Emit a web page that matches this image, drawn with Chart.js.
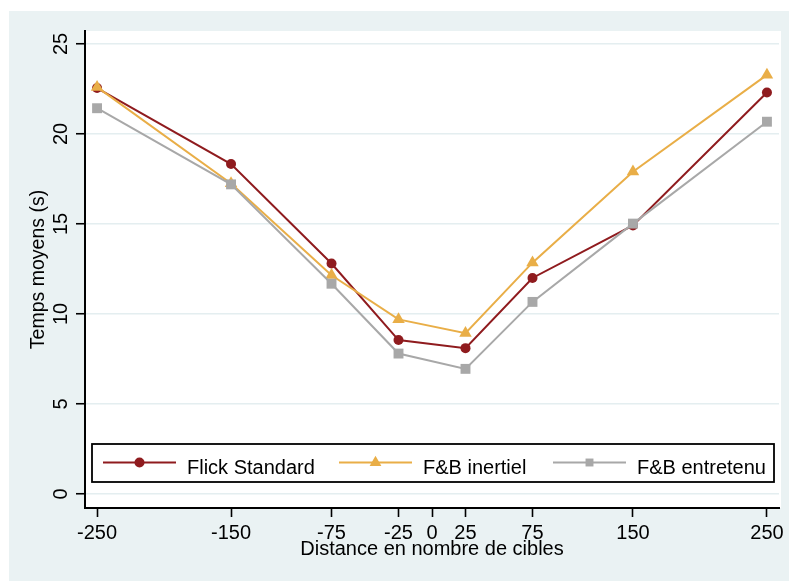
<!DOCTYPE html>
<html>
<head>
<meta charset="utf-8">
<script src="https://cdn.jsdelivr.net/npm/chart.js@4.4.1/dist/chart.umd.min.js"></script>
<style>
body { margin: 0; background: #ffffff; }
#wrap { position: absolute; left: 9px; top: 11px; width: 780px; height: 570px; background: #eaf2f3; }
</style>
</head>
<body>
<div id="wrap"><canvas id="myChart" width="780" height="570"></canvas></div>
<script>
const distances = [-250, -150, -75, -25, 25, 75, 150, 250];
const xTicks = [-250, -150, -75, -25, 0, 25, 75, 150, 250];
const yTicks = [0, 5, 10, 15, 20, 25];
const flickStandard = [22.55, 18.33, 12.8, 8.55, 8.1, 12.0, 14.92, 22.3];
const fbInertiel = [22.6, 17.25, 12.15, 9.7, 8.93, 12.85, 17.9, 23.28];
const fbEntretenu = [21.43, 17.2, 11.68, 7.8, 6.95, 10.67, 15.02, 20.68];
const seriesNames = ['Flick Standard', 'F&B inertiel', 'F&B entretenu'];

const police = 'Liberation Sans, Arial, Helvetica, sans-serif';
const couleurs = ['#8f1b1e', '#e9ae47', '#a8a8a8'];
const styles = ['circle', 'triangle', 'rect'];
const rayons = [5, 7.2, 7];

function points(valeurs) {
    return distances.map((d, i) => ({ x: d, y: valeurs[i] }));
}

// fond blanc de la zone du graphique
const fondBlanc = {
    id: 'fondBlanc',
    beforeDraw(chart) {
        const a = chart.chartArea;
        const ctx = chart.ctx;
        ctx.save();
        ctx.fillStyle = '#ffffff';
        ctx.fillRect(a.left, a.top, a.right - a.left + 2, a.bottom - a.top);
        ctx.restore();
    }
};

// etiquettes verticales de l'axe y (style Stata)
const etiquettesY = {
    id: 'etiquettesY',
    afterDraw(chart) {
        const y = chart.scales.y;
        const ctx = chart.ctx;
        ctx.save();
        ctx.fillStyle = '#000';
        ctx.font = '20px ' + police;
        ctx.textAlign = 'center';
        ctx.textBaseline = 'middle';
        yTicks.forEach(v => {
            ctx.save();
            ctx.translate(52, y.getPixelForValue(v));
            ctx.rotate(-Math.PI / 2);
            ctx.fillText(String(v), 0, 0);
            ctx.restore();
        });
        ctx.restore();
    }
};

// legende encadree dans la zone du graphique
const legendeInterne = {
    id: 'legendeInterne',
    afterDraw(chart) {
        const ctx = chart.ctx;
        ctx.save();
        ctx.fillStyle = '#ffffff';
        ctx.fillRect(83, 433, 682, 38);
        ctx.strokeStyle = '#000';
        ctx.lineWidth = 1.8;
        ctx.strokeRect(83, 433, 682, 38);
        const debuts = [94, 330, 544];
        const yLigne = 451.5;
        chart.data.datasets.forEach((ds, i) => {
            const x0 = debuts[i];
            ctx.strokeStyle = ds.borderColor;
            ctx.lineWidth = 2;
            ctx.beginPath();
            ctx.moveTo(x0, yLigne);
            ctx.lineTo(x0 + 73, yLigne);
            ctx.stroke();
            ctx.fillStyle = ds.backgroundColor;
            Chart.helpers.drawPoint(ctx, {
                pointStyle: ds.pointStyle,
                radius: i === 2 ? 5.6 : (i === 1 ? 6.8 : 5),
                rotation: 0,
                borderWidth: 0
            }, x0 + 36.5, yLigne);
            ctx.fillStyle = '#000';
            ctx.font = '20px ' + police;
            ctx.textAlign = 'left';
            ctx.textBaseline = 'alphabetic';
            ctx.fillText(ds.label, x0 + 84, 462.5);
        });
        ctx.restore();
    }
};

const series = [flickStandard, fbInertiel, fbEntretenu];
const datasets = series.map((s, i) => ({
    label: seriesNames[i],
    data: points(s),
    borderColor: couleurs[i],
    backgroundColor: couleurs[i],
    borderWidth: 2,
    pointStyle: styles[i],
    pointRadius: rayons[i],
    pointBorderWidth: 0,
    pointHoverRadius: rayons[i],
    tension: 0,
    order: 2 - i
}));

const ctx = document.getElementById('myChart').getContext('2d');
const myChart = new Chart(ctx, {
    type: 'line',
    data: { datasets: datasets },
    options: {
        responsive: false,
        animation: false,
        layout: { padding: { top: 20, right: 10, left: 0, bottom: 0 } },
        plugins: {
            legend: { display: false },
            tooltip: { enabled: false }
        },
        scales: {
            x: {
                type: 'linear',
                min: -259,
                max: 259,
                afterBuildTicks: s => { s.ticks = xTicks.map(v => ({ value: v })); },
                afterFit: s => { s.height = 73; },
                grid: { drawOnChartArea: false, tickLength: 9, tickColor: '#000', tickWidth: 1.6 },
                border: { color: '#000', width: 2 },
                ticks: {
                    color: '#000',
                    font: { family: police, size: 20 },
                    padding: 4,
                    maxRotation: 0,
                    autoSkip: false
                },
                title: {
                    display: true,
                    text: 'Distance en nombre de cibles',
                    color: '#000',
                    font: { family: police, size: 20 },
                    padding: { top: 0, bottom: 20 }
                }
            },
            y: {
                type: 'linear',
                min: -0.78,
                max: 25.72,
                afterBuildTicks: s => { s.ticks = yTicks.map(v => ({ value: v })); },
                afterFit: s => { s.width = 76; },
                grid: { color: '#e4eef0', lineWidth: 1.5, tickLength: 9, tickColor: '#000', tickWidth: 1.6 },
                border: { color: '#000', width: 2 },
                ticks: { display: false },
                title: {
                    display: true,
                    text: 'Temps moyens (s)',
                    color: '#000',
                    font: { family: police, size: 19.5 },
                    padding: { top: 17.5, bottom: 0 }
                }
            }
        }
    },
    plugins: [fondBlanc, etiquettesY, legendeInterne]
});
</script>
</body>
</html>
